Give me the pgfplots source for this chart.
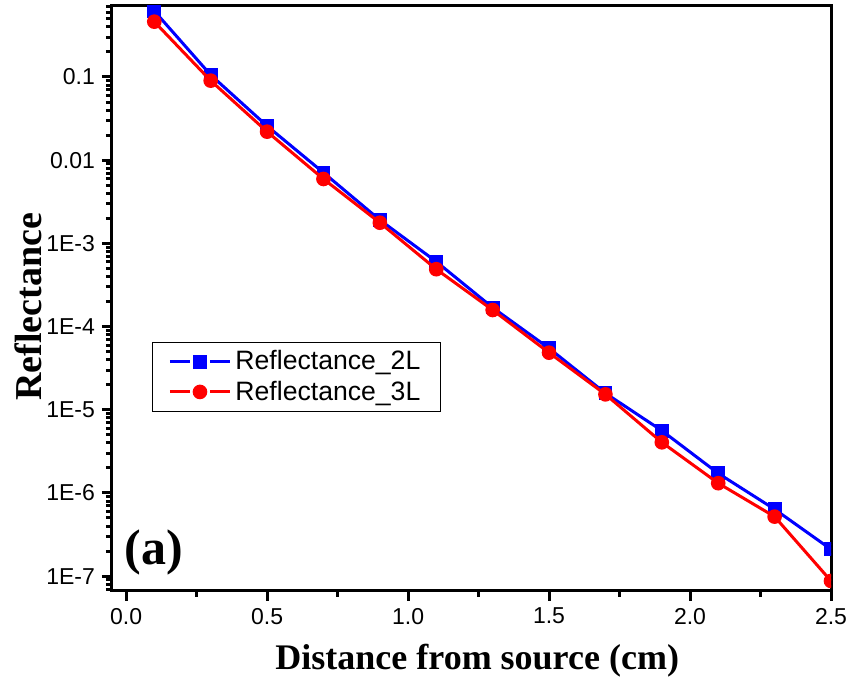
\documentclass[border=0pt]{standalone}
\usepackage{pgfplots}
\pgfplotsset{compat=1.18}
\usepackage{fontspec}
\setmainfont{Liberation Serif}
\newfontfamily\arial{Liberation Sans}
\definecolor{myblue}{RGB}{0,0,255}
\definecolor{myred}{RGB}{255,0,0}
\begin{document}
\begin{tikzpicture}
\begin{axis}[
  name=ax,
  scale only axis,
  width=359.5pt, height=292.5pt,
  ymode=log,
  xmin=-0.05, xmax=2.5,
  ymin=6.63e-8, ymax=0.713,
  axis line style={line width=1.5pt},
  every tick/.style={line width=1.5pt, black},
  tick align=outside,
  xtick pos=bottom, ytick pos=left,
  major tick length=5pt, minor tick length=3pt,
  xtick={0,0.5,1.0,1.5,2.0,2.5},
  minor x tick num=1,
  ytick={1e-7,1e-6,1e-5,1e-4,1e-3,1e-2,1e-1},
  yticklabels={1E-7,1E-6,1E-5,1E-4,1E-3,0.01,0.1},
  minor ytick={7e-8,8e-8,9e-8,
    2e-7,3e-7,4e-7,5e-7,6e-7,7e-7,8e-7,9e-7,
    2e-6,3e-6,4e-6,5e-6,6e-6,7e-6,8e-6,9e-6,
    2e-5,3e-5,4e-5,5e-5,6e-5,7e-5,8e-5,9e-5,
    2e-4,3e-4,4e-4,5e-4,6e-4,7e-4,8e-4,9e-4,
    2e-3,3e-3,4e-3,5e-3,6e-3,7e-3,8e-3,9e-3,
    2e-2,3e-2,4e-2,5e-2,6e-2,7e-2,8e-2,9e-2,
    2e-1,3e-1,4e-1,5e-1,6e-1,7e-1},
  xticklabel style={/pgf/number format/.cd, fixed, fixed zerofill, precision=1, assume math mode=true},
  tick label style={font=\arial\fontsize{11.5}{13}\selectfont},
  xlabel={Distance from source (cm)},
  ylabel={Reflectance},
  xlabel style={font=\bfseries\fontsize{18}{20}\selectfont, at={(axis description cs:0.508,-0.1197)}, anchor=center},
  ylabel style={font=\bfseries\fontsize{19}{21}\selectfont, at={(axis description cs:-0.117,0.4855)}, anchor=center},
  clip marker paths=true,
  legend style={at={(axis description cs:0.0556,0.4256)}, anchor=north west,
    draw=black, line width=0.5pt, font=\arial\fontsize{13.3}{15.5}\selectfont,
    cells={anchor=west}, inner xsep=8pt, inner ysep=2pt},
  legend image code/.code={%
    \draw (0pt,0pt)--(10pt,0pt) (20pt,0pt)--(30pt,0pt);
    \draw plot[only marks] coordinates {(15pt,0pt)};},
]
\addplot[color=myblue, line width=1.5pt, mark=square*, mark size=2.7pt, mark options={solid}]
coordinates {
(0.1,0.621) (0.3,0.1057) (0.5,0.02576) (0.7,0.00708) (0.9,0.00191)
(1.1,6.03e-4) (1.3,1.69e-4) (1.5,5.48e-5) (1.7,1.58e-5) (1.9,5.61e-6)
(2.1,1.72e-6) (2.3,6.37e-7) (2.5,2.10e-7)
};
\addlegendentry{Reflectance\_2L}
\addplot[color=myred, line width=1.5pt, mark=*, mark size=2.9pt, mark options={solid}]
coordinates {
(0.1,0.462) (0.3,0.0903) (0.5,0.0220) (0.7,0.00594) (0.9,0.00177)
(1.1,4.89e-4) (1.3,1.58e-4) (1.5,4.85e-5) (1.7,1.53e-5) (1.9,4.06e-6)
(2.1,1.31e-6) (2.3,5.19e-7) (2.5,8.75e-8)
};
\addlegendentry{Reflectance\_3L}
\node[font=\bfseries\fontsize{25}{28}\selectfont] at (rel axis cs:0.058,0.065) {(a)};
\end{axis}
\pgfresetboundingbox
\path[use as bounding box] ([shift={(-56pt,-45pt)}]ax.south west) rectangle ([shift={(8.5pt,3pt)}]ax.north east);
\end{tikzpicture}
\end{document}
